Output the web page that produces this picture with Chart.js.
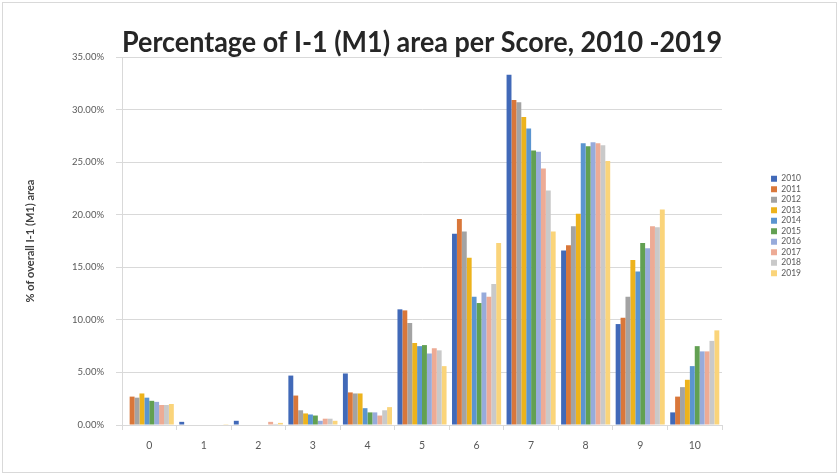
<!DOCTYPE html>
<html>
<head>
<meta charset="utf-8">
<title>Percentage of I-1 (M1) area per Score, 2010 -2019</title>
<script src="https://cdn.jsdelivr.net/npm/chart.js@4.4.1/dist/chart.umd.min.js"></script>
<style>
  html, body { margin: 0; padding: 0; background: #ffffff; }
  canvas { display: block; }
</style>
</head>
<body>
<canvas id="chart" width="839" height="475"></canvas>
<script>
// Scores on the x axis
const scores = ['0', '1', '2', '3', '4', '5', '6', '7', '8', '9', '10'];

// Years shown as series
const years = ['2010', '2011', '2012', '2013', '2014', '2015', '2016', '2017', '2018', '2019'];

// Share of overall I-1 (M1) area per score, in percent
const pct2010 = [0.0, 0.3, 0.4, 4.7, 4.9, 11.0, 18.2, 33.3, 16.6, 9.6, 1.2];
const pct2011 = [2.7, 0.0, 0.0, 2.8, 3.1, 10.9, 19.6, 30.9, 17.1, 10.2, 2.7];
const pct2012 = [2.6, 0.0, 0.0, 1.4, 3.0, 9.7, 18.4, 30.7, 18.9, 12.2, 3.6];
const pct2013 = [3.0, 0.0, 0.0, 1.1, 3.0, 7.8, 15.9, 29.3, 20.1, 15.7, 4.3];
const pct2014 = [2.6, 0.0, 0.0, 1.0, 1.6, 7.5, 12.2, 28.2, 26.8, 14.6, 5.6];
const pct2015 = [2.3, 0.0, 0.0, 0.9, 1.2, 7.6, 11.6, 26.1, 26.5, 17.3, 7.5];
const pct2016 = [2.2, 0.0, 0.0, 0.4, 1.2, 6.8, 12.6, 26.0, 26.9, 16.8, 7.0];
const pct2017 = [1.9, 0.05, 0.3, 0.6, 0.9, 7.3, 12.2, 24.4, 26.8, 18.9, 7.0];
const pct2018 = [1.9, 0.05, 0.1, 0.6, 1.4, 7.1, 13.4, 22.3, 26.6, 18.8, 8.0];
const pct2019 = [2.0, 0.02, 0.2, 0.4, 1.7, 5.6, 17.3, 18.4, 25.1, 20.5, 9.0];

// Value axis tick positions
const yTickValues = [0, 5, 10, 15, 20, 25, 30, 35];

const seriesValues = [pct2010, pct2011, pct2012, pct2013, pct2014,
                      pct2015, pct2016, pct2017, pct2018, pct2019];

const yearColors = ['#4169B8', '#D9773A', '#A3A3A3', '#EDB31C', '#5B95D0',
                    '#62A052', '#97ABDB', '#EDAB95', '#C9C9C9', '#FAD47A'];

// White background and thin outer frame
const chartFrame = {
  id: 'chartFrame',
  beforeDraw(chart) {
    const ctx = chart.ctx;
    ctx.save();
    ctx.fillStyle = '#ffffff';
    ctx.fillRect(0, 0, chart.width, chart.height);
    ctx.strokeStyle = '#d9d9d9';
    ctx.lineWidth = 1;
    ctx.strokeRect(2.5, 2.5, chart.width - 5, chart.height - 5);
    ctx.restore();
  }
};

const textFamily = 'Lato, "Liberation Sans", sans-serif';

new Chart(document.getElementById('chart'), {
  type: 'bar',
  data: {
    labels: scores,
    datasets: years.map((year, i) => ({
      label: year,
      data: seriesValues[i],
      backgroundColor: yearColors[i],
      borderWidth: 0,
      categoryPercentage: 0.9,
      barPercentage: 1.0,
      yAxisID: 'y'
    }))
  },
  options: {
    responsive: false,
    animation: false,
    layout: { padding: { top: 0, left: 20, right: 28, bottom: 23 } },
    plugins: {
      title: {
        display: true,
        fullSize: false,
        text: 'Percentage of I-1 (M1) area per Score, 2010 -2019',
        color: '#262626',
        font: { family: textFamily, weight: 'bold', size: 28, lineHeight: 1.0 },
        padding: { top: 29, bottom: 0 }
      },
      legend: {
        position: 'right',
        labels: {
          boxWidth: 6,
          boxHeight: 6,
          padding: 2,
          color: '#595959',
          font: { family: textFamily, size: 8.5 }
        }
      },
      tooltip: { enabled: false }
    },
    scales: {
      x: {
        grid: { offset: true, drawOnChartArea: false, drawTicks: true, tickLength: 5, color: '#d9d9d9' },
        border: { color: '#d9d9d9' },
        ticks: { color: '#595959', font: { family: textFamily, size: 10.5 }, padding: 9 },
        afterFit(scale) { scale.height = 27; }
      },
      y: {
        min: 0,
        max: 35,
        grid: { color: '#d9d9d9', tickLength: 6 },
        border: { color: '#d9d9d9' },
        afterBuildTicks(scale) { scale.ticks = yTickValues.map(v => ({ value: v })); },
        ticks: {
          color: '#595959',
          font: { family: textFamily, size: 9.5 },
          padding: 12,
          callback: v => v.toFixed(2) + '%'
        },
        title: {
          display: true,
          text: '% of overall I-1 (M1) area',
          color: '#404040',
          font: { family: textFamily, weight: 'bold', size: 11 },
          padding: { top: 4, bottom: 0 }
        },
        afterFit(scale) { scale.width = 102; }
      },
      gap: {
        type: 'linear',
        position: 'right',
        display: true,
        grid: { display: false },
        border: { display: false },
        ticks: { display: false },
        afterFit(scale) { scale.width = 47; }
      }
    }
  },
  plugins: [chartFrame]
});
</script>
</body>
</html>
